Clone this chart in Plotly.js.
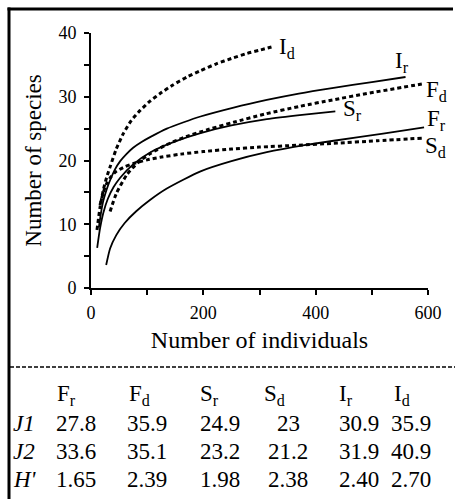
<!DOCTYPE html>
<html>
<head>
<meta charset="utf-8">
<script src="https://cdn.plot.ly/plotly-3.0.1.min.js"></script>
<style>html,body{margin:0;padding:0;background:#fff;}#chart{width:455px;height:499px;}</style>
</head>
<body>
<div id="chart"></div>
<script>
// ---- curve data (number of individuals vs number of species) ----
const xFr = [27, 34, 45, 60, 80, 105, 135, 195, 250, 313, 380, 432, 520, 593];
const yFr = [3.6, 6.2, 8.3, 10.2, 12.0, 13.8, 15.6, 18.3, 19.9, 21.3, 22.4, 23.1, 24.2, 25.2];
const xFd = [34, 45, 64, 85, 106, 135, 165, 210, 254, 310, 372, 430, 491, 589];
const yFd = [12.0, 14.8, 17.8, 19.8, 21.1, 22.5, 23.6, 24.9, 26.0, 27.3, 28.5, 29.5, 30.5, 32.0];
const xSr = [11, 16, 22, 30, 40, 52, 75, 106, 150, 195, 250, 313, 380, 435];
const ySr = [6.3, 9.3, 11.8, 14.0, 15.8, 17.3, 19.4, 21.3, 23.0, 24.3, 25.5, 26.5, 27.2, 27.7];
const xSd = [16, 22, 28, 36, 45, 60, 75, 100, 123, 160, 200, 250, 300, 370, 432, 510, 589];
const ySd = [13.0, 15.0, 16.4, 17.5, 18.3, 19.0, 19.5, 20.1, 20.5, 21.0, 21.4, 21.8, 22.1, 22.4, 22.7, 23.1, 23.5];
const xIr = [14, 18, 22, 28, 34, 42, 52, 63, 75, 90, 106, 135, 165, 195, 254, 313, 370, 432, 500, 560];
const yIr = [9.5, 11.9, 13.7, 15.5, 16.9, 18.5, 19.9, 21.0, 22.0, 22.9, 23.7, 25.0, 26.0, 26.9, 28.3, 29.5, 30.5, 31.4, 32.3, 33.1];
const xId = [10.7, 16, 22, 28, 34, 45, 58, 72, 88, 105, 123, 145, 171, 195, 224, 250, 278, 300, 325];
const yId = [9.1, 12.6, 15.4, 17.4, 19.0, 21.8, 24.3, 26.3, 27.9, 29.3, 30.5, 31.8, 33.1, 34.1, 35.2, 36.0, 36.8, 37.3, 37.9];

const curveLabels = ['F<sub>r</sub>', 'F<sub>d</sub>', 'S<sub>r</sub>', 'S<sub>d</sub>', 'I<sub>r</sub>', 'I<sub>d</sub>'];

// ---- axis ticks ----
const xTickVals = [0, 100, 200, 300, 400, 500, 600];
const xTickText = ['0', '', '200', '', '400', '', '600'];
const yTickVals = [0, 5, 10, 15, 20, 25, 30, 35, 40];
const yTickText = ['0', '', '10', '', '20', '', '30', '', '40'];

// ---- table ----
const tableHeaders = ['F<sub>r</sub>', 'F<sub>d</sub>', 'S<sub>r</sub>', 'S<sub>d</sub>', 'I<sub>r</sub>', 'I<sub>d</sub>'];
const rowLabels = ['J1', 'J2', "H'"];
const rowJ1 = ['27.8', '35.9', '24.9', '23', '30.9', '35.9'];
const rowJ2 = ['33.6', '35.1', '23.2', '21.2', '31.9', '40.9'];
const rowH = ['1.65', '2.39', '1.98', '2.38', '2.40', '2.70'];

// ---- layout helpers (pixel -> paper) ----
const W = 455, H = 499, ML = 91, MR = 27, MT = 33, MB = 211;
const PW = W - ML - MR, PH = H - MT - MB;
const PX = p => (p - ML) / PW;
const PY = p => (H - MB - p) / PH;
const FONT = 'Liberation Serif';

const series = [
  {x: xFr, y: yFr, dash: 'solid'},
  {x: xFd, y: yFd, dash: 'dot'},
  {x: xSr, y: ySr, dash: 'solid'},
  {x: xSd, y: ySd, dash: 'dot'},
  {x: xIr, y: yIr, dash: 'solid'},
  {x: xId, y: yId, dash: 'dot'}
];
const names = ['Fr', 'Fd', 'Sr', 'Sd', 'Ir', 'Id'];
const traces = series.map((s, i) => ({
  type: 'scatter', mode: 'lines', x: s.x, y: s.y, name: names[i],
  line: {color: '#000', width: s.dash === 'solid' ? 1.8 : 3,
         dash: s.dash === 'solid' ? 'solid' : '4px,3px', shape: 'spline', smoothing: 0.6},
  hoverinfo: 'skip', showlegend: false
}));

// label offsets (pixels) relative to the end of each curve
const labelOffsets = [
  {dx: 1, dy: 7}, {dx: 2, dy: -7}, {dx: 6, dy: 1}, {dx: 1, dy: -9}, {dx: -13, dy: 15}, {dx: 3, dy: -2}
];
const annotations = [];
series.forEach((s, i) => {
  const n = s.x.length - 1;
  annotations.push({
    x: s.x[n], y: s.y[n], xref: 'x', yref: 'y', text: curveLabels[i], showarrow: false,
    xanchor: 'left', yanchor: 'middle', xshift: labelOffsets[i].dx, yshift: labelOffsets[i].dy,
    font: {family: FONT, size: 23, color: '#000'}
  });
});

// table
const headerLeft = [55, 127, 198, 262, 337, 392];
const colCenter = [76, 147, 220, 288, 359, 411];
const rowY = [423, 451, 479];
const TSIZE = 23;
tableHeaders.forEach((t, i) => {
  annotations.push({x: PX(headerLeft[i]), y: PY(395), xref: 'paper', yref: 'paper', text: t,
    showarrow: false, xanchor: 'left', yanchor: 'middle', font: {family: FONT, size: TSIZE, color: '#000'}});
});
[rowJ1, rowJ2, rowH].forEach((row, r) => {
  annotations.push({x: PX(11), y: PY(rowY[r]), xref: 'paper', yref: 'paper', text: '<i>' + rowLabels[r] + '</i>',
    showarrow: false, xanchor: 'left', yanchor: 'middle', font: {family: FONT, size: TSIZE, color: '#000'}});
  row.forEach((v, c) => {
    annotations.push({x: PX(colCenter[c]), y: PY(rowY[r]), xref: 'paper', yref: 'paper', text: v,
      showarrow: false, xanchor: 'center', yanchor: 'middle', font: {family: FONT, size: TSIZE, color: '#000'}});
  });
});

const shapes = [
  {type: 'line', xref: 'paper', yref: 'paper', x0: PX(9), x1: PX(9), y0: PY(7.5), y1: PY(499), line: {color: '#000', width: 3}},
  {type: 'line', xref: 'paper', yref: 'paper', x0: PX(7.5), x1: PX(453), y0: PY(9), y1: PY(9), line: {color: '#000', width: 3}},
  {type: 'line', xref: 'paper', yref: 'paper', x0: PX(10), x1: PX(455), y0: PY(367), y1: PY(367), line: {color: '#000', width: 1.5, dash: '4px,2px'}}
];

const layout = {
  width: W, height: H,
  margin: {l: ML, r: MR, t: MT, b: MB, pad: 0},
  paper_bgcolor: '#fff', plot_bgcolor: '#fff',
  font: {family: FONT, color: '#000'},
  showlegend: false,
  xaxis: {
    range: [0, 600], tickmode: 'array', tickvals: xTickVals, ticktext: xTickText,
    showgrid: false, zeroline: false, showline: true, linecolor: '#000', linewidth: 2,
    ticks: 'outside', ticklen: 5, tickwidth: 2, tickcolor: '#000', ticklabelstandoff: 2,
    tickfont: {family: FONT, size: 18, color: '#000'},
    title: {text: 'Number of individuals', font: {family: FONT, size: 24, color: '#000'}, standoff: 10}
  },
  yaxis: {
    range: [0, 40], tickmode: 'array', tickvals: yTickVals, ticktext: yTickText,
    showgrid: false, zeroline: false, showline: true, linecolor: '#000', linewidth: 2,
    ticks: 'outside', ticklen: 5, tickwidth: 2, tickcolor: '#000', ticklabelstandoff: 4,
    tickfont: {family: FONT, size: 18, color: '#000'},
    title: {text: 'Number of species', font: {family: FONT, size: 23, color: '#000'}, standoff: 10}
  },
  annotations: annotations,
  shapes: shapes
};

Plotly.newPlot('chart', traces, layout, {staticPlot: true, displayModeBar: false});
</script>
</body>
</html>
